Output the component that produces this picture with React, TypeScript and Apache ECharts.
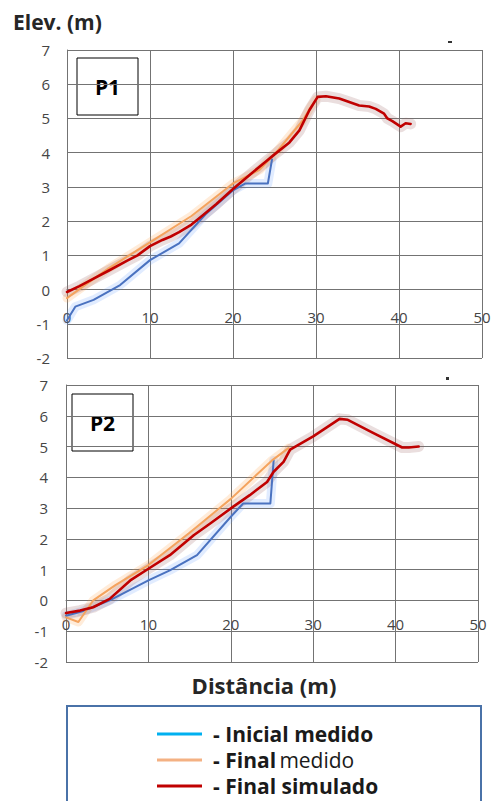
import React, { useEffect, useRef } from "react";
import * as echarts from "echarts";

// ---- data (distance m, elevation m) ----
const xTicks = [0, 10, 20, 30, 40, 50];
const yTicks = [-2, -1, 0, 1, 2, 3, 4, 5, 6, 7];

const p1Inicial: number[][] = [
  [0, -0.9], [1, -0.5], [3.2, -0.3], [6.4, 0.13], [10, 0.86], [13.5, 1.35], [16.7, 2.2],
  [20, 2.9], [21.5, 3.1], [24.2, 3.1], [24.7, 3.8],
];
const p1FinalMedido: number[][] = [
  [0, -0.25], [2, 0.1], [5, 0.62], [10, 1.38], [15, 2.15], [20, 3.1], [23.2, 3.5],
  [25, 3.95], [28.4, 4.94], [29.4, 5.35], [30, 5.55],
];
const p1FinalSimulado: number[][] = [
  [0, -0.07], [1.5, 0.1], [3.2, 0.32], [5, 0.55], [7.2, 0.84], [8.5, 1.0], [10, 1.27],
  [11.5, 1.45], [12.5, 1.55], [13.5, 1.68], [15, 1.9], [16, 2.1], [18, 2.5], [20, 2.94],
  [22, 3.35], [24, 3.75], [25, 3.95], [26.8, 4.3], [28, 4.65], [29.2, 5.24], [30.2, 5.63],
  [31.2, 5.65], [32.8, 5.58], [34, 5.48], [35.2, 5.38], [36.4, 5.35], [37.2, 5.28],
  [38.2, 5.14], [38.6, 5.0], [39.2, 4.92], [40.2, 4.76], [40.8, 4.86], [41.4, 4.84],
];

const p2Inicial: number[][] = [
  [0, -0.5], [2, -0.35], [5.3, 0.0], [10, 0.65], [12.6, 0.98], [15.9, 1.47], [20, 2.72],
  [21.5, 3.15], [24.8, 3.15], [25.2, 4.55],
];
const p2FinalMedido: number[][] = [
  [0, -0.55], [1.5, -0.7], [3.3, 0.0], [6, 0.5], [10, 1.15], [15, 2.2], [20, 3.3],
  [25, 4.55], [27, 4.95],
];
const p2FinalSimulado: number[][] = [
  [0, -0.41], [1.7, -0.33], [3.3, -0.22], [5.3, 0.05], [7.8, 0.65], [10, 1.03], [12.6, 1.47],
  [15.5, 2.12], [17.5, 2.5], [20, 2.99], [22.3, 3.42], [24.4, 3.85], [25.2, 4.18], [26.4, 4.5],
  [27.2, 4.9], [30, 5.33], [33.2, 5.9], [34.2, 5.87], [37.2, 5.45], [40.8, 4.97], [41.6, 4.97],
  [42.8, 5.0],
];

const legendNames = ["Inicial medido", "Final medido", "Final simulado"];
const panelNames = ["P1", "P2"];

const FONT = "'Open Sans', sans-serif";
const TICK_FONT = "'Open Sans', sans-serif";
const GRID_COLOR = "#737373";

export default function App() {
  const ref = useRef<HTMLDivElement>(null);
  useEffect(() => {
    if (!ref.current) return;
    const chart = echarts.init(ref.current, undefined, { renderer: "svg" });

    const grids = [
      { left: 67, top: 50, width: 415, height: 308 },
      { left: 66, top: 385, width: 412, height: 277 },
    ];
    const yMin = yTicks[0];
    const yMax = yTicks[yTicks.length - 1];
    const xMargins = [20, 16];
    const xAxis = grids.map((g, i) => ({
      type: "value" as const,
      gridIndex: i,
      min: xTicks[0],
      max: xTicks[xTicks.length - 1],
      interval: 10,
      // place the axis (and its labels) on the y = 0 line, as in the original
      offset: -(g.height * (0 - yMin)) / (yMax - yMin),
      axisLine: { show: true, onZero: false, lineStyle: { color: GRID_COLOR, width: 1 } },
      axisTick: { show: false },
      axisLabel: { color: "#454545", fontSize: 15, fontFamily: TICK_FONT, margin: xMargins[i] },
      splitLine: { show: true, lineStyle: { color: GRID_COLOR, width: 1 } },
    }));
    const yAxis = grids.map((_, i) => ({
      type: "value" as const,
      gridIndex: i,
      min: yMin,
      max: yMax,
      interval: 1,
      axisLine: { show: true, onZero: false, lineStyle: { color: GRID_COLOR, width: 1 } },
      axisTick: { show: false },
      axisLabel: { color: "#454545", fontSize: 15, fontFamily: TICK_FONT, margin: i === 0 ? 17 : 18 },
      splitLine: { show: true, lineStyle: { color: GRID_COLOR, width: 1 } },
    }));

    const mk = (name: string, data: number[][], idx: number, color: string, width: number, z: number, glow = false) => ({
      type: "line" as const,
      name,
      data,
      xAxisIndex: idx,
      yAxisIndex: idx,
      showSymbol: false,
      symbol: "none",
      smooth: false,
      silent: glow,
      z,
      lineStyle: { color, width, cap: "round" as const, join: "round" as const },
    });

    const BLUE = "#4a72c0";
    const ORANGE = "#f4a35e";
    const RED = "#c00000";
    const GLOW_B = "rgba(90,150,255,0.18)";
    const GLOW_O = "rgba(255,160,70,0.2)";
    const GLOW_R = "rgba(150,90,90,0.2)";
    const series = [
      mk(legendNames[0], p1Inicial, 0, GLOW_B, 9, 1, true),
      mk(legendNames[1], p1FinalMedido, 0, GLOW_O, 9, 1, true),
      mk(legendNames[2], p1FinalSimulado, 0, GLOW_R, 11, 1, true),
      mk(legendNames[0], p1Inicial, 0, BLUE, 2, 2),
      mk(legendNames[1], p1FinalMedido, 0, ORANGE, 2, 3),
      mk(legendNames[2], p1FinalSimulado, 0, RED, 2.6, 4),
      mk(legendNames[0], p2Inicial, 1, GLOW_B, 9, 1, true),
      mk(legendNames[1], p2FinalMedido, 1, GLOW_O, 9, 1, true),
      mk(legendNames[2], p2FinalSimulado, 1, GLOW_R, 11, 1, true),
      mk(legendNames[0], p2Inicial, 1, BLUE, 2, 2),
      mk(legendNames[1], p2FinalMedido, 1, ORANGE, 2, 3),
      mk(legendNames[2], p2FinalSimulado, 1, RED, 2.6, 4),
    ];

    const panelBox = (x: number, y: number, w: number, h: number, label: string) => ({
      type: "group",
      z: 100,
      children: [
        { type: "rect", shape: { x, y, width: w, height: h }, style: { fill: "#fff", stroke: "#000", lineWidth: 1 } },
        {
          type: "text",
          x: x + w / 2,
          y: y + h / 2,
          style: { text: label, fill: "#000", font: `bold 21px ${FONT}`, align: "center", verticalAlign: "middle" },
        },
      ],
    });

    const legendColors = ["#00b0f0", "#f4b183", "#c00000"];
    const legendYs = [734, 760, 786];
    const legendItems = legendNames.map((n, i) => ({
      type: "group",
      children: [
        { type: "line", shape: { x1: 157, y1: legendYs[i], x2: 202, y2: legendYs[i] }, style: { stroke: legendColors[i], lineWidth: 3 } },
        {
          type: "text",
          x: 213,
          y: legendYs[i],
          style: {
            text: i === 1 ? "{b|- Final} {n|medido}" : `{b|- ${n}}`,
            verticalAlign: "middle",
            rich: {
              b: { font: `bold 21px ${FONT}`, fill: "#1a1a1a" },
              n: { font: `21px ${FONT}`, fill: "#1a1a1a" },
            },
          },
        },
      ],
    }));

    chart.setOption({
      animation: false,
      backgroundColor: "#fff",
      grid: grids.map((g) => ({ ...g, containLabel: false })),
      xAxis,
      yAxis,
      series,
      graphic: [
        { type: "text", x: 13, y: 22, style: { text: "Elev. (m)", fill: "#262626", font: `bold 21px ${FONT}`, verticalAlign: "middle" } },
        { type: "rect", shape: { x: 448, y: 41, width: 4, height: 2 }, style: { fill: "#333" } },
        { type: "rect", shape: { x: 446, y: 377, width: 3, height: 3 }, style: { fill: "#333" } },
        panelBox(77, 58, 61, 57, panelNames[0]),
        panelBox(72, 394, 61, 57, panelNames[1]),
        {
          type: "text",
          x: 264,
          y: 685,
          style: { text: "Distância (m)", fill: "#262626", font: `bold 22px ${FONT}`, align: "center", verticalAlign: "middle" },
        },
        { type: "rect", shape: { x: 67, y: 706, width: 414, height: 110 }, style: { fill: "none", stroke: "#4a72a8", lineWidth: 2 } },
        ...legendItems,
      ],
    });
    return () => chart.dispose();
  }, []);
  return <div ref={ref} style={{ position: "absolute", left: 0, top: 0, width: 495, height: 801 }} />;
}
